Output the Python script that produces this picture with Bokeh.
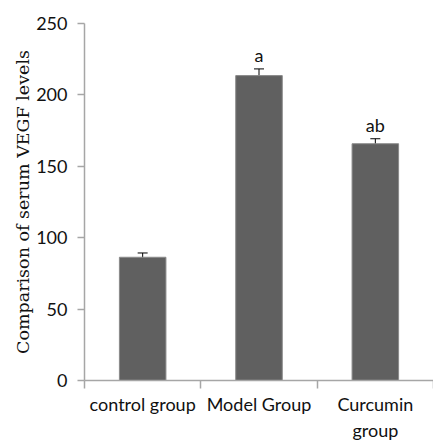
from bokeh.plotting import figure
from bokeh.models import ColumnDataSource, Whisker, FixedTicker, Range1d
from bokeh.core.properties import value
from bokeh.embed import file_html
from bokeh.resources import INLINE

categories = ["control group", "Model Group", "Curcumin\ngroup"]
means = [86.3, 213.5, 165.8]
errors = [3.0, 4.7, 3.5]
sig_labels = ["", "a", "ab"]
y_ticks = [0, 50, 100, 150, 200, 250]

xs = [i + 0.5 for i in range(len(categories))]
src = ColumnDataSource(data=dict(
    x=xs, top=means,
    upper=[m + e for m, e in zip(means, errors)],
    lower=[m - e for m, e in zip(means, errors)],
    lab=sig_labels,
))

p = figure(frame_width=349, frame_height=357, output_backend="svg", toolbar_location=None,
           x_range=Range1d(0, 3), y_range=Range1d(0, 250),
           min_border_left=84, min_border_right=0, min_border_top=23, min_border_bottom=62)
p.outline_line_color = None
p.xgrid.visible = False
p.ygrid.visible = False

p.vbar(x="x", top="top", width=0.40, source=src,
       fill_color="#606060", line_color="#8a8a8a", line_width=1)

w = Whisker(base="x", upper="upper", lower="lower", source=src,
            line_color="black", line_width=1)
w.upper_head.size = 10
w.lower_head.size = 10
w.upper_head.line_color = "black"
w.lower_head.line_color = "black"
p.add_layout(w)

p.text(x="x", y="upper", text="lab", source=src, text_align="center",
       text_baseline="alphabetic", y_offset=-14, text_font=value("Lato"),
       text_font_size="18px", text_color="#111111")

axis_col = "#a6a6a6"
ya = p.yaxis[0]
ya.ticker = FixedTicker(ticks=y_ticks)
ya.axis_line_color = axis_col
ya.axis_line_width = 1.5
ya.major_tick_line_color = axis_col
ya.major_tick_line_width = 1.5
ya.major_tick_out = 7
ya.major_tick_in = 0
ya.minor_tick_line_color = None
ya.major_label_text_font = "Lato"
ya.major_label_text_font_size = "18px"
ya.major_label_text_color = "#111111"
ya.major_label_standoff = 10
ya.axis_label = "Comparison of serum VEGF levels"
ya.axis_label_text_font = "DejaVu Serif"
ya.axis_label_text_font_style = "normal"
ya.axis_label_text_font_size = "17.5px"
ya.axis_label_text_color = "#111111"
ya.axis_label_standoff = 0

xa = p.xaxis[0]
xa.ticker = FixedTicker(ticks=xs, minor_ticks=[0, 1, 2, 3])
xa.major_label_overrides = {x: c for x, c in zip(xs, categories)}
xa.axis_line_color = axis_col
xa.axis_line_width = 1.5
xa.major_tick_line_color = None
xa.minor_tick_line_color = axis_col
xa.minor_tick_line_width = 1.5
xa.minor_tick_out = 8
xa.minor_tick_in = 0
xa.major_label_text_font = "Lato"
xa.major_label_text_font_size = "18px"
xa.major_label_text_color = "#111111"
xa.major_label_text_line_height = 1.2
xa.major_label_standoff = 4

open("out.html", "w").write(file_html(p, INLINE))
